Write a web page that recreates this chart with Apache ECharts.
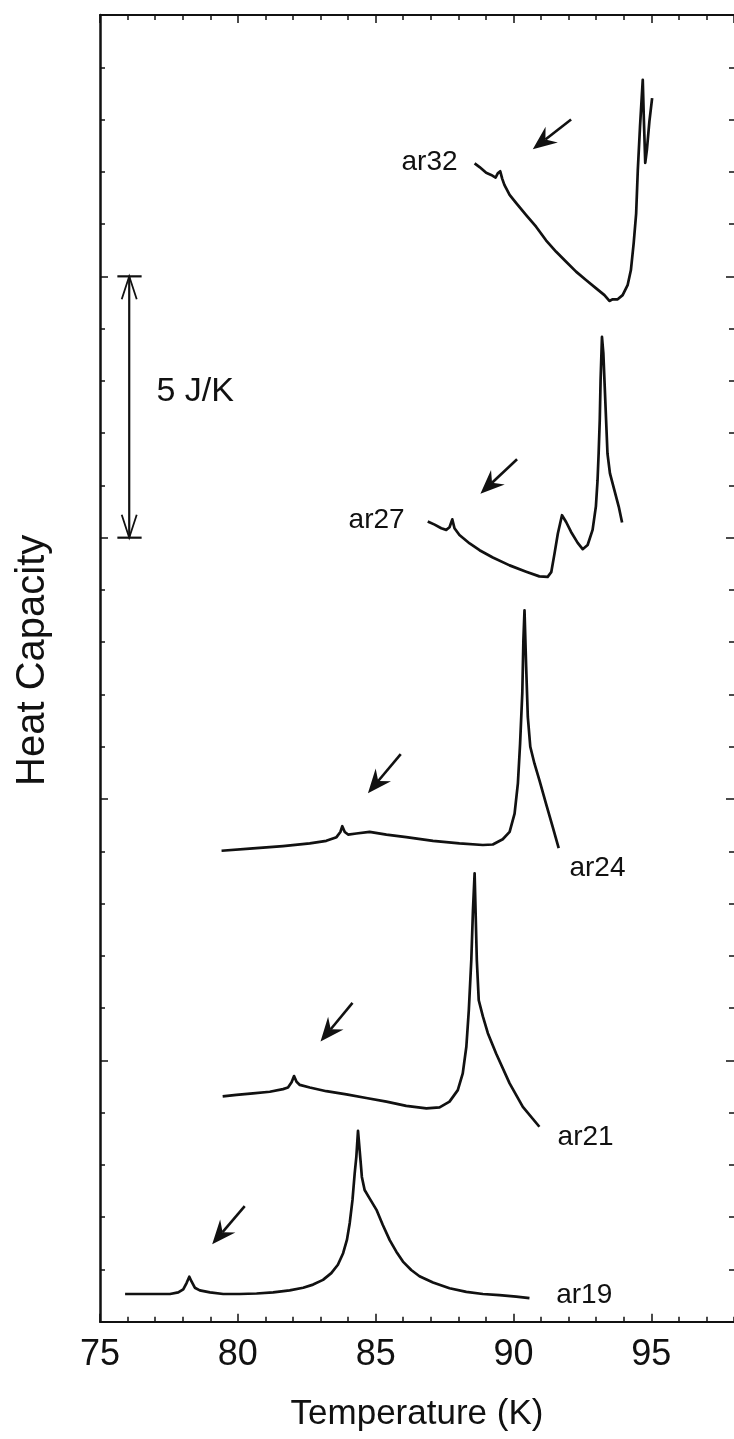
<!DOCTYPE html>
<html>
<head>
<meta charset="utf-8">
<title>Heat Capacity</title>
<script src="https://cdn.jsdelivr.net/npm/echarts@6/dist/echarts.min.js"></script>
<style>
  html, body { margin: 0; padding: 0; background: #fff; }
  #chart { width: 734px; height: 1439px; }
</style>
</head>
<body>
<div id="chart"></div>
<script>
const FONT = '"Liberation Sans", Arial, Helvetica, sans-serif';

// Heat-capacity scans, each as [temperature (K), offset heat capacity (J/K)]
const ar32 = [
  [88.59, 22.16], [88.77, 22.09], [89.01, 21.98], [89.19, 21.94], [89.35, 21.89],
  [89.43, 21.97], [89.52, 22.01], [89.59, 21.87], [89.67, 21.75], [89.86, 21.56],
  [90.10, 21.40], [90.46, 21.17], [90.82, 20.95], [91.18, 20.69], [91.55, 20.47],
  [91.91, 20.28], [92.27, 20.09], [92.63, 19.93], [93.00, 19.77], [93.30, 19.64],
  [93.48, 19.53], [93.60, 19.56], [93.78, 19.56], [93.96, 19.64], [94.14, 19.83],
  [94.26, 20.12], [94.36, 20.63], [94.45, 21.20], [94.51, 22.03], [94.59, 22.86],
  [94.69, 23.76], [94.73, 23.00], [94.78, 22.17], [94.84, 22.42], [94.93, 22.96],
  [95.03, 23.41]
];
const ar27 = [
  [86.89, 15.31], [87.14, 15.25], [87.38, 15.18], [87.56, 15.15], [87.68, 15.20],
  [87.78, 15.35], [87.86, 15.18], [88.04, 15.05], [88.41, 14.89], [88.77, 14.76],
  [89.25, 14.62], [89.86, 14.47], [90.46, 14.35], [90.94, 14.26], [91.24, 14.25],
  [91.37, 14.34], [91.49, 14.70], [91.61, 15.08], [91.76, 15.43], [91.91, 15.30],
  [92.09, 15.11], [92.33, 14.90], [92.51, 14.78], [92.69, 14.86], [92.87, 15.15],
  [92.99, 15.60], [93.05, 16.10], [93.09, 16.62], [93.13, 17.25], [93.16, 18.01],
  [93.21, 18.84], [93.26, 18.53], [93.31, 17.89], [93.36, 17.25], [93.41, 16.61],
  [93.50, 16.23], [93.66, 15.91], [93.82, 15.59], [93.94, 15.29]
];
const ar24 = [
  [79.41, 9.01], [80.43, 9.05], [81.64, 9.10], [82.61, 9.15], [83.21, 9.20],
  [83.58, 9.27], [83.72, 9.37], [83.79, 9.48], [83.88, 9.37], [84.00, 9.32],
  [84.30, 9.34], [84.78, 9.37], [85.39, 9.32], [86.11, 9.27], [87.08, 9.20],
  [88.04, 9.15], [88.89, 9.12], [89.25, 9.13], [89.61, 9.23], [89.86, 9.37],
  [90.04, 9.72], [90.16, 10.30], [90.24, 11.06], [90.32, 12.03], [90.36, 13.04],
  [90.40, 13.61], [90.46, 12.53], [90.52, 11.57], [90.61, 11.00], [90.76, 10.68],
  [90.94, 10.36], [91.18, 9.91], [91.42, 9.47], [91.64, 9.06]
];
const ar21 = [
  [79.45, 4.31], [79.95, 4.34], [80.55, 4.37], [81.16, 4.40], [81.64, 4.45],
  [81.82, 4.48], [81.95, 4.58], [82.04, 4.70], [82.13, 4.59], [82.25, 4.53],
  [82.61, 4.48], [83.21, 4.41], [83.94, 4.35], [84.66, 4.28], [85.39, 4.21],
  [86.11, 4.13], [86.84, 4.08], [87.32, 4.10], [87.68, 4.21], [87.98, 4.43],
  [88.16, 4.75], [88.29, 5.26], [88.38, 5.96], [88.47, 6.92], [88.53, 7.87],
  [88.59, 8.58], [88.67, 6.92], [88.74, 6.15], [88.89, 5.84], [89.07, 5.52],
  [89.37, 5.13], [89.86, 4.56], [90.34, 4.11], [90.94, 3.73]
];
const ar19 = [
  [75.91, 0.53], [77.54, 0.53], [77.84, 0.56], [78.02, 0.62], [78.14, 0.74],
  [78.24, 0.86], [78.32, 0.77], [78.44, 0.65], [78.62, 0.60], [78.99, 0.56],
  [79.47, 0.53], [80.07, 0.53], [80.68, 0.54], [81.28, 0.56], [81.88, 0.60],
  [82.37, 0.65], [82.73, 0.71], [83.09, 0.80], [83.39, 0.93], [83.63, 1.09],
  [83.82, 1.31], [83.96, 1.57], [84.06, 1.89], [84.16, 2.33], [84.24, 2.84],
  [84.30, 3.16], [84.36, 3.65], [84.45, 3.09], [84.50, 2.77], [84.60, 2.52],
  [84.78, 2.36], [85.03, 2.14], [85.26, 1.85], [85.51, 1.56], [85.75, 1.34],
  [85.99, 1.15], [86.29, 0.99], [86.59, 0.87], [87.08, 0.75], [87.68, 0.64],
  [88.29, 0.57], [88.89, 0.53], [89.49, 0.51], [90.10, 0.48], [90.58, 0.45]
];

const curveNames = ['ar32', 'ar27', 'ar24', 'ar21', 'ar19'];
const curves = [ar32, ar27, ar24, ar21, ar19];

// Curve labels: [T, Cp, text, side of the anchor the text sits on]
const curveLabels = [
  [87.97, 22.19, 'ar32', 'left'],
  [86.05, 15.34, 'ar27', 'left'],
  [92.03, 8.68, 'ar24', 'right'],
  [91.60, 3.53, 'ar21', 'right'],
  [91.55, 0.51, 'ar19', 'right']
];

// Arrows marking the small anomaly: [T tail, Cp tail, T head, Cp head]
const arrows = [
  [92.09, 23.00, 90.70, 22.43],
  [90.13, 16.50, 88.80, 15.84],
  [85.91, 10.86, 84.72, 10.11],
  [84.16, 6.10, 83.00, 5.36],
  [80.25, 2.21, 79.07, 1.48]
];

// Vertical scale bar: [T, Cp low, Cp high, cap T left, cap T right]
const scaleBar = [[76.06, 15, 20, 75.63, 76.51]];
const scaleBarText = [[77.05, 17.79, '5 J/K']];

const xRange = [75, 98];
const yRange = [0, 25];

const INK = '#111';

function renderArrow(params, api) {
  const p0 = api.coord([api.value(0), api.value(1)]);
  const p1 = api.coord([api.value(2), api.value(3)]);
  const dx = p1[0] - p0[0], dy = p1[1] - p0[1];
  const len = Math.hypot(dx, dy);
  const ux = dx / len, uy = dy / len;
  const nx = -uy, ny = ux;
  const L = 24, W = 10, notch = 16;
  const b1 = [p1[0] - ux * L + nx * W, p1[1] - uy * L + ny * W];
  const b2 = [p1[0] - ux * L - nx * W, p1[1] - uy * L - ny * W];
  const nt = [p1[0] - ux * notch, p1[1] - uy * notch];
  return {
    type: 'group',
    children: [
      { type: 'line', shape: { x1: p0[0], y1: p0[1], x2: nt[0], y2: nt[1] },
        style: { stroke: INK, lineWidth: 2.6 } },
      { type: 'polygon', shape: { points: [p1, b1, nt, b2] }, style: { fill: INK } }
    ]
  };
}

function renderScaleBar(params, api) {
  const top = api.coord([api.value(0), api.value(2)]);
  const bot = api.coord([api.value(0), api.value(1)]);
  const capL = api.coord([api.value(3), api.value(2)])[0];
  const capR = api.coord([api.value(4), api.value(2)])[0];
  const x = top[0];
  const hw = 7.5, hl = 23;
  const st = { stroke: INK, lineWidth: 2.2, fill: null };
  return {
    type: 'group',
    children: [
      { type: 'line', shape: { x1: x, y1: top[1], x2: x, y2: bot[1] }, style: st },
      { type: 'line', shape: { x1: capL, y1: top[1], x2: capR, y2: top[1] }, style: st },
      { type: 'line', shape: { x1: capL, y1: bot[1], x2: capR, y2: bot[1] }, style: st },
      { type: 'polyline', shape: { points: [[x - hw, top[1] + hl], [x, top[1]], [x + hw, top[1] + hl]] },
        style: { stroke: INK, lineWidth: 1.8, fill: null } },
      { type: 'polyline', shape: { points: [[x - hw, bot[1] - hl], [x, bot[1]], [x + hw, bot[1] - hl]] },
        style: { stroke: INK, lineWidth: 1.8, fill: null } }
    ]
  };
}

function textRenderer(list, fontSize) {
  return function (params, api) {
    const p = api.coord([api.value(0), api.value(1)]);
    const item = list[params.dataIndex];
    const side = item[3] || 'right';
    return {
      type: 'text',
      x: p[0],
      y: p[1],
      style: {
        text: item[2],
        font: fontSize + 'px ' + FONT,
        fill: INK,
        align: side === 'left' ? 'right' : 'left',
        verticalAlign: 'middle'
      }
    };
  };
}

const axisLine = { show: true, lineStyle: { color: INK, width: 2 } };

function xAxisPair(position, withLabels) {
  return [
    {
      type: 'value', position: position, min: xRange[0], max: xRange[1], interval: 5,
      axisLine: axisLine,
      axisTick: { show: true, inside: true, length: 8, lineStyle: { color: INK, width: 1.5 } },
      axisLabel: withLabels
        ? { show: true, fontSize: 36, fontFamily: FONT, color: INK, margin: 15, showMaxLabel: false }
        : { show: false },
      splitLine: { show: false },
      name: withLabels ? 'Temperature (K)' : '',
      nameLocation: 'middle',
      nameGap: 75,
      nameTextStyle: { fontSize: 35, fontFamily: FONT, color: INK }
    },
    {
      type: 'value', position: position, min: xRange[0], max: xRange[1], interval: 1,
      axisLine: { show: false },
      axisTick: { show: true, inside: true, length: 5, lineStyle: { color: INK, width: 1.5 } },
      axisLabel: { show: false },
      splitLine: { show: false }
    }
  ];
}

function yAxis(position, withName) {
  return {
    type: 'value', position: position, min: yRange[0], max: yRange[1], interval: 5,
    axisLine: { show: position === 'left', lineStyle: { color: INK, width: 2.5 } },
    axisTick: { show: true, inside: true, length: 8, lineStyle: { color: INK, width: 1.5 } },
    minorTick: { show: true, splitNumber: 5, length: 5, lineStyle: { color: INK, width: 1.5 } },
    axisLabel: { show: false },
    splitLine: { show: false },
    name: withName ? 'Heat Capacity' : '',
    nameLocation: 'middle',
    nameGap: 47,
    nameTextStyle: { fontSize: 40, fontFamily: FONT, color: INK, padding: [0, 0, 0, 16] }
  };
}

const series = curves.map((data, i) => ({
  name: curveNames[i],
  type: 'line',
  data: data,
  showSymbol: false,
  symbol: 'none',
  smooth: false,
  lineStyle: { color: INK, width: 2.7, join: 'round' },
  silent: true,
  z: 3
}));

series.push({
  name: 'arrows',
  type: 'custom',
  renderItem: renderArrow,
  data: arrows,
  silent: true,
  z: 4
});
series.push({
  name: 'scale',
  type: 'custom',
  renderItem: renderScaleBar,
  data: scaleBar,
  silent: true,
  z: 4
});
series.push({
  name: 'curve labels',
  type: 'custom',
  renderItem: textRenderer(curveLabels, 28),
  data: curveLabels.map(l => [l[0], l[1]]),
  silent: true,
  z: 5
});
series.push({
  name: 'scale label',
  type: 'custom',
  renderItem: textRenderer(scaleBarText, 34),
  data: scaleBarText.map(l => [l[0], l[1]]),
  silent: true,
  z: 5
});

const chart = echarts.init(document.getElementById('chart'), null, { renderer: 'canvas' });
chart.setOption({
  backgroundColor: '#fff',
  animation: false,
  grid: { left: 100, top: 15, width: 634.8, height: 1306.7, containLabel: false },
  xAxis: [...xAxisPair('bottom', true), ...xAxisPair('top', false)],
  yAxis: [yAxis('left', true), yAxis('right', false)],
  series: series
});
</script>
</body>
</html>
